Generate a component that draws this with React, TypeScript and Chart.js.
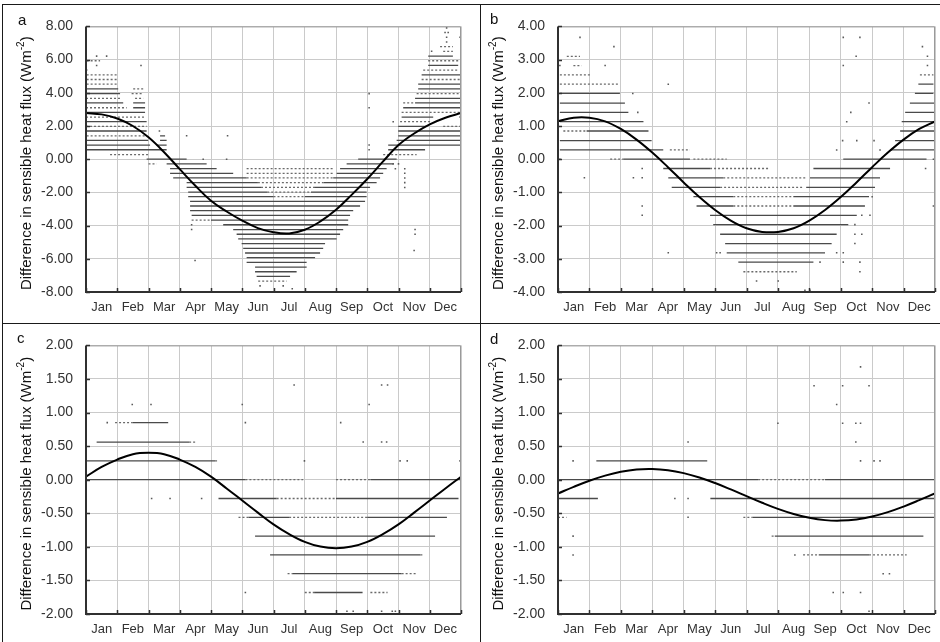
import React, { useEffect, useRef } from "react";
import { Chart, registerables } from "chart.js";
Chart.register(...registerables);

// ---------------- data ----------------
const MONTHS = ["Jan", "Feb", "Mar", "Apr", "May", "Jun", "Jul", "Aug", "Sep", "Oct", "Nov", "Dec"];
const MONTH_CENTERS = [0.5, 1.5, 2.5, 3.5, 4.5, 5.5, 6.5, 7.5, 8.5, 9.5, 10.5, 11.5];
const CURVE_X = [0, 0.5, 1, 1.5, 2, 2.5, 3, 3.5, 4, 4.5, 5, 5.5, 6, 6.5, 7, 7.5, 8, 8.5, 9, 9.5, 10, 10.5, 11, 11.5, 12];

const A_TICKS = [-8, -6, -4, -2, 0, 2, 4, 6, 8];
const B_TICKS = [-4, -3, -2, -1, 0, 1, 2, 3, 4];
const CD_TICKS = [-2, -1.5, -1, -0.5, 0, 0.5, 1, 1.5, 2];

// fitted curves (value at CURVE_X)
const aCurve = [2.78, 2.7, 2.45, 2.0, 1.32, 0.42, -0.6, -1.6, -2.5, -3.15, -3.7, -4.15, -4.4, -4.47, -4.25, -3.75, -3.05, -2.15, -1.19, -0.15, 0.85, 1.55, 2.1, 2.5, 2.78];
const bCurve = [1.14, 1.25, 1.25, 1.14, 0.91, 0.59, 0.2, -0.24, -0.7, -1.14, -1.53, -1.85, -2.08, -2.19, -2.19, -2.08, -1.85, -1.53, -1.14, -0.7, -0.24, 0.2, 0.59, 0.91, 1.14];
const cCurve = [0.045, 0.19, 0.3, 0.38, 0.4, 0.38, 0.3, 0.19, 0.045, -0.13, -0.31, -0.49, -0.665, -0.81, -0.925, -0.996, -1.02, -0.996, -0.925, -0.81, -0.665, -0.49, -0.31, -0.13, 0.045];
const dCurve = [-0.205, -0.106, -0.015, 0.061, 0.118, 0.152, 0.159, 0.141, 0.098, 0.033, -0.05, -0.145, -0.245, -0.344, -0.435, -0.511, -0.568, -0.602, -0.609, -0.591, -0.548, -0.483, -0.4, -0.305, -0.205];

// daily differences: dense runs [value, fromMonth, toMonth]
const aDense = [
  [6.21, 10.95, 11.74], [5.65, 10.95, 11.91], [5.08, 10.74, 11.97], [4.52, 10.63, 12],
  [4.24, 0, 1.03], [4.24, 10.63, 12], [3.95, 0, 1.09], [3.67, 10.53, 12],
  [3.39, 0, 1.19], [3.39, 1.51, 1.89], [3.39, 10.53, 12], [3.1, 1.51, 1.89], [3.1, 10.15, 12],
  [2.82, 0, 1.89], [2.54, 10.1, 11.11], [2.26, 0, 1.94], [1.98, 9.99, 10.9],
  [1.7, 0, 1.94], [1.7, 9.99, 12], [1.41, 2.37, 2.53], [1.41, 9.99, 12],
  [1.13, 0.02, 1.99], [1.13, 2.37, 2.58], [1.13, 9.94, 12],
  [0.85, 0, 2.05], [0.85, 2.26, 2.58], [0.85, 9.67, 12], [0.57, 0, 2.58], [0.57, 9.67, 10.85],
  [0, 1.94, 3.22], [0, 8.71, 9.94], [-0.28, 2.58, 3.86], [-0.28, 8.34, 9.83],
  [-0.57, 2.69, 4.18], [-0.57, 8.13, 9.62], [-0.85, 2.69, 4.71], [-0.85, 8.02, 9.51],
  [-1.13, 2.79, 5.14], [-1.13, 7.91, 9.41], [-1.41, 3.22, 5.5], [-1.41, 7.6, 9.3],
  [-1.7, 3.22, 5.6], [-1.7, 7.3, 9.09], [-1.98, 3.27, 5.8], [-1.98, 7.2, 8.98],
  [-2.26, 3.27, 6.0], [-2.26, 7.0, 8.98], [-2.54, 3.33, 8.93], [-2.82, 3.33, 8.77],
  [-3.1, 3.33, 8.55], [-3.39, 3.38, 8.45], [-3.67, 4.0, 8.39], [-3.95, 4.39, 8.39],
  [-4.24, 4.71, 8.23], [-4.52, 4.82, 8.13], [-4.8, 4.87, 8.02], [-5.08, 4.98, 7.65],
  [-5.37, 5.03, 7.59], [-5.65, 5.09, 7.49], [-5.93, 5.14, 7.33], [-6.21, 5.14, 7.06],
  [-6.5, 5.41, 7.06], [-6.78, 5.41, 6.74], [-7.06, 5.46, 6.53],
];
const aSparse = [
  [6.78, 11.33, 11.74], [6.5, 11.43, 11.74], [5.93, 0.02, 0.45], [5.93, 10.95, 11.91],
  [5.37, 10.79, 11.91], [5.08, 0.02, 0.98], [4.8, 0.02, 0.98], [4.8, 10.74, 12],
  [4.52, 0.02, 1.03], [4.24, 1.51, 1.83], [3.95, 1.46, 1.83], [3.95, 10.58, 12],
  [3.67, 0, 1.09], [3.67, 1.57, 1.83], [3.39, 10.15, 10.53], [3.1, 0, 1.3],
  [2.82, 10.1, 12], [2.54, 0, 1.89], [2.26, 10.05, 11.01], [1.98, 0, 1.94], [1.98, 11.43, 12],
  [1.41, 0.02, 1.94], [0.28, 0.77, 1.99], [0.28, 9.51, 10.58], [-0.28, 2.0, 2.26],
  [-0.57, 5.14, 7.91], [-0.85, 5.14, 7.91], [-1.13, 5.14, 7.91], [-1.41, 5.5, 7.6],
  [-1.7, 5.6, 7.3], [-1.98, 5.8, 7.2], [-2.26, 6.0, 7.0], [-3.67, 3.38, 4.0], [-7.34, 5.51, 6.42],
];
const aDots = [
  [11.54, 7.91], [11.49, 7.63], [11.59, 7.63], [11.54, 7.35], [11.97, 7.35], [11.54, 7.06],
  [11.06, 6.5], [0.34, 6.21], [0.66, 6.21], [0.34, 5.65], [1.76, 5.65], [0.02, 5.37],
  [9.06, 3.95], [9.06, 3.1], [11.97, 2.54], [9.83, 2.26], [2.35, 1.7], [3.22, 1.41], [4.53, 1.41],
  [9.06, 0.85], [9.06, 0.57], [3.75, 0], [4.5, 0], [10.0, -0.28], [3.38, -3.95], [3.38, -4.24],
  [3.49, -6.1], [5.57, -7.63], [6.31, -7.63], [6.6, -7.8], [10.53, -4.24], [10.53, -4.52],
  [10.5, -5.5], [10.2, -0.57], [10.2, -0.85], [10.2, -1.13], [10.2, -1.41], [10.2, -1.7],
  [9.83, -0.28], [9.9, -0.57],
];

const bDense = [
  [2.26, 11.47, 11.95], [1.98, 0.06, 1.97], [1.98, 11.36, 11.95], [1.69, 0.06, 2.13], [1.69, 11.2, 12],
  [1.41, 0.06, 2.24], [1.41, 11.05, 12], [1.13, 0.06, 2.72], [1.13, 10.94, 12],
  [0.85, 0.91, 2.88], [0.85, 10.89, 12], [0.56, 0.06, 2.98], [0.56, 10.73, 12],
  [0.28, 0.06, 3.35], [0.28, 10.57, 12], [0, 2.08, 4.2], [0, 9.08, 11.73],
  [-0.28, 3.35, 4.84], [-0.28, 8.13, 10.57], [-0.56, 3.51, 5.26], [-0.56, 8.02, 10.25],
  [-0.85, 3.62, 5.16], [-0.85, 7.9, 10.09], [-1.13, 4.31, 5.58], [-1.13, 7.49, 9.9],
  [-1.41, 4.41, 5.58], [-1.41, 7.49, 9.77], [-1.69, 4.84, 9.51], [-1.97, 4.94, 9.24],
  [-2.26, 5.16, 8.87], [-2.54, 5.32, 8.71], [-2.82, 5.37, 8.5], [-3.1, 5.74, 8.13],
];
const bSparse = [
  [3.1, 0.28, 0.7], [2.82, 0.49, 0.75], [2.54, 0.06, 1.07], [2.54, 11.52, 11.95],
  [2.26, 0.06, 1.92], [0.85, 0.17, 0.91], [0.28, 3.56, 4.2], [0, 1.66, 2.08], [0, 4.31, 5.37],
  [-0.28, 4.84, 6.75], [-0.56, 5.26, 7.92], [-0.85, 5.16, 7.81], [-1.13, 5.58, 7.49],
  [-1.41, 5.58, 7.49], [-3.39, 5.9, 7.6],
];
const bDots = [
  [0.7, 3.67], [9.08, 3.67], [9.61, 3.67], [1.78, 3.39], [11.6, 3.39], [9.49, 3.1], [11.76, 3.1],
  [0.06, 2.82], [1.5, 2.82], [9.08, 2.82], [11.76, 2.82], [3.51, 2.26], [2.38, 1.98], [9.9, 1.69],
  [2.54, 1.41], [9.32, 1.41], [9.19, 1.13], [9.06, 0.56], [9.51, 0.56], [10.06, 0.56], [8.87, 0.28],
  [10.25, 0.28], [0.06, 0], [11.95, 0], [2.68, -0.28], [0.84, -0.56], [2.4, -0.56], [2.68, -0.56],
  [10.0, -1.13], [2.68, -1.41], [2.68, -1.69], [9.67, -1.69], [9.93, -1.69], [9.45, -1.97],
  [9.45, -2.26], [9.67, -2.26], [9.45, -2.54], [5.05, -2.82], [5.16, -2.82], [8.87, -2.82],
  [9.08, -2.82], [3.51, -2.82], [8.34, -3.1], [9.08, -3.1], [9.61, -3.1], [9.61, -3.39],
  [6.32, -3.67], [7.01, -3.67], [7.86, -3.95], [8.02, -3.95], [11.95, -1.41], [11.7, -0.28],
];

const cDense = [
  [0.85, 1.5, 2.63], [0.56, 0.34, 3.3], [0.28, 0, 4.13], [0, 0, 5.1], [0, 9.1, 12],
  [-0.28, 4.24, 6.1], [-0.28, 8.0, 11.92], [-0.56, 5.2, 6.5], [-0.56, 9.0, 11.55],
  [-0.84, 5.41, 11.17], [-1.12, 5.89, 10.7], [-1.4, 6.6, 10.1], [-1.68, 7.3, 8.85],
];
const cSparse = [
  [0.85, 0.93, 1.5], [0.56, 3.3, 3.54], [0.28, 4.13, 4.23], [0, 5.1, 6.95], [0, 8.0, 9.1],
  [-0.28, 6.1, 8.0], [-0.56, 4.88, 5.2], [-0.56, 6.5, 9.0], [-1.12, 10.7, 10.79],
  [-1.4, 6.45, 6.6], [-1.4, 10.1, 10.58], [-1.68, 7.0, 7.3], [-1.68, 9.1, 9.65],
];
const cDots = [
  [6.66, 1.41], [9.46, 1.41], [9.65, 1.41], [1.48, 1.12], [2.08, 1.12], [5.0, 1.12], [9.06, 1.12],
  [0.68, 0.85], [5.1, 0.85], [8.15, 0.85], [8.87, 0.56], [9.46, 0.56], [9.62, 0.56],
  [6.99, 0.28], [10.05, 0.28], [10.28, 0.28], [11.97, 0.28], [2.1, -0.28], [2.69, -0.28],
  [3.7, -0.28], [5.1, -1.68], [8.35, -1.96], [8.55, -1.96], [9.46, -1.96], [9.8, -1.96], [9.9, -1.96],
];

const dDense = [
  [0.28, 1.22, 4.75], [0, 0, 6.37], [0, 8.5, 12], [-0.28, 0, 1.27], [-0.28, 4.85, 12],
  [-0.56, 6.2, 12], [-0.84, 6.9, 11.63], [-1.12, 8.3, 9.9],
];
const dSparse = [
  [0, 6.37, 8.5], [-0.56, 0, 0.27], [-0.56, 5.9, 6.2], [-0.84, 6.8, 6.9], [-1.12, 7.8, 8.3], [-1.12, 9.9, 11.1],
];
const dDots = [
  [9.63, 1.68], [8.15, 1.4], [9.06, 1.4], [9.9, 1.4], [8.87, 1.12], [7.0, 0.84], [9.06, 0.84],
  [9.48, 0.84], [9.63, 0.84], [4.14, 0.56], [9.48, 0.56], [0.48, 0.28], [9.63, 0.28], [10.06, 0.28],
  [10.25, 0.28], [12.0, 0.28], [3.72, -0.28], [4.14, -0.28], [4.14, -0.56], [0.48, -0.84],
  [0.48, -1.12], [7.54, -1.12], [10.35, -1.4], [10.55, -1.4], [8.76, -1.68], [9.08, -1.68],
  [9.63, -1.68], [9.9, -1.96],
];

// ---------------- layout / style ----------------
const FONT = "'Liberation Sans', Arial, Helvetica, sans-serif";
const PANELS = [
  { letter: "a", left: 3, top: 5, w: 477, h: 318, pad: { left: 83, top: 16, right: 19, bottom: 31 }, ticks: A_TICKS, curve: aCurve, dense: aDense, sparse: aSparse, dots: aDots, titleX: 24, letterX: 15, letterY: 20 },
  { letter: "b", left: 481, top: 5, w: 459, h: 318, pad: { left: 77, top: 16, right: 5, bottom: 31 }, ticks: B_TICKS, curve: bCurve, dense: bDense, sparse: bSparse, dots: bDots, titleX: 18, letterX: 9, letterY: 19 },
  { letter: "c", left: 3, top: 324, w: 477, h: 318, pad: { left: 83, top: 18, right: 19, bottom: 28 }, ticks: CD_TICKS, curve: cCurve, dense: cDense, sparse: cSparse, dots: cDots, titleX: 24, letterX: 14, letterY: 19 },
  { letter: "d", left: 481, top: 324, w: 459, h: 318, pad: { left: 77, top: 18, right: 5, bottom: 28 }, ticks: CD_TICKS, curve: dCurve, dense: dDense, sparse: dSparse, dots: dDots, titleX: 18, letterX: 9, letterY: 20 },
];

function runs(rows: number[][]) {
  const out: { x: number; y: number | null }[] = [];
  rows.forEach(([v, a, b]) => {
    out.push({ x: a, y: v }, { x: b, y: v }, { x: b, y: null });
  });
  return out;
}

function Panel({ p }: { p: (typeof PANELS)[number] }) {
  const ref = useRef<HTMLCanvasElement>(null);
  useEffect(() => {
    const ticks = p.ticks;
    const yMin = ticks[0];
    const yMax = ticks[ticks.length - 1];
    const deco = {
      id: "deco",
      afterDraw(chart: any) {
        const { ctx } = chart;
        const { left, right, top, bottom } = chart.chartArea;
        const ys = chart.scales.y;
        const xs = chart.scales.x;
        ctx.save();
        ctx.strokeStyle = "#9a9a9a";
        ctx.lineWidth = 1;
        ctx.beginPath();
        ctx.moveTo(left, top + 0.5);
        ctx.lineTo(right - 0.5, top + 0.5);
        ctx.lineTo(right - 0.5, bottom);
        ctx.stroke();
        ctx.strokeStyle = "#303030";
        ctx.lineWidth = 2;
        ctx.beginPath();
        ctx.moveTo(left, top);
        ctx.lineTo(left, bottom);
        ctx.lineTo(right, bottom);
        ctx.stroke();
        ctx.lineWidth = 1.5;
        ctx.beginPath();
        ticks.forEach((t) => {
          const py = Math.round(ys.getPixelForValue(t)) + 0.5;
          ctx.moveTo(left, py);
          ctx.lineTo(left + 4, py);
        });
        for (let m = 0; m <= 12; m++) {
          const px = Math.round(xs.getPixelForValue(m)) + 0.5;
          ctx.moveTo(px, bottom);
          ctx.lineTo(px, bottom - 4);
        }
        ctx.stroke();
        const f = `15px ${FONT}`;
        const fs = `10px ${FONT}`;
        const t1 = "Difference in sensible heat flux (Wm";
        const t2 = "-2";
        const t3 = ")";
        ctx.font = f;
        const w1 = ctx.measureText(t1).width;
        const w3 = ctx.measureText(t3).width;
        ctx.font = fs;
        const w2 = ctx.measureText(t2).width;
        const total = w1 + w2 + w3;
        ctx.translate(p.titleX, (top + bottom) / 2 + 4);
        ctx.rotate(-Math.PI / 2);
        ctx.fillStyle = "#111";
        ctx.textBaseline = "middle";
        ctx.textAlign = "left";
        let x0 = -total / 2;
        ctx.font = f;
        ctx.fillText(t1, x0, 0);
        x0 += w1;
        ctx.font = fs;
        ctx.fillText(t2, x0, -6);
        x0 += w2;
        ctx.font = f;
        ctx.fillText(t3, x0, 0);
        ctx.restore();
        ctx.save();
        ctx.fillStyle = "#111";
        ctx.font = `15px ${FONT}`;
        ctx.textAlign = "left";
        ctx.textBaseline = "alphabetic";
        ctx.fillText(p.letter, p.letterX, p.letterY);
        ctx.restore();
      },
    };
    const chart = new Chart(ref.current as HTMLCanvasElement, {
      type: "line",
      data: {
        datasets: [
          {
            data: CURVE_X.map((x, i) => ({ x, y: p.curve[i] })),
            borderColor: "#000",
            borderWidth: 2,
            pointRadius: 0,
            tension: 0.4,
            fill: false,
          },
          {
            type: "scatter",
            data: p.dots.map(([x, y]) => ({ x, y })),
            pointStyle: "rect",
            pointRadius: 1.1,
            borderWidth: 0,
            backgroundColor: "#5a5a5a",
          },
          {
            data: runs(p.dense),
            borderColor: "#4a4a4a",
            borderWidth: 1.3,
            pointRadius: 0,
            tension: 0,
            spanGaps: false,
            fill: false,
          },
          {
            data: runs(p.sparse),
            borderColor: "#6a6a6a",
            borderWidth: 1.3,
            borderDash: [2, 2],
            pointRadius: 0,
            tension: 0,
            spanGaps: false,
            fill: false,
          },
        ],
      } as any,
      options: {
        responsive: false,
        animation: false,
        events: [],
        layout: { padding: { left: 0, top: p.pad.top, right: p.pad.right, bottom: 0 } },
        plugins: { legend: { display: false }, tooltip: { enabled: false } },
        scales: {
          x: {
            type: "linear",
            min: 0,
            max: 12,
            ticks: { stepSize: 1, display: false },
            grid: { color: "#cacaca", lineWidth: 1, drawTicks: false },
            border: { display: false },
            afterFit: (s: any) => {
              s.height = 0;
            },
          },
          x2: {
            type: "linear",
            position: "bottom",
            min: 0,
            max: 12,
            grid: { display: false, drawTicks: false },
            border: { display: false },
            afterBuildTicks: (s: any) => {
              s.ticks = MONTH_CENTERS.map((v) => ({ value: v }));
            },
            ticks: {
              autoSkip: false,
              maxRotation: 0,
              padding: 8,
              color: "#333",
              font: { family: FONT, size: 13 },
              callback: (_v: any, i: number) => MONTHS[i],
            },
            afterFit: (s: any) => {
              s.height = p.pad.bottom;
            },
          },
          y: {
            type: "linear",
            min: yMin,
            max: yMax,
            afterBuildTicks: (s: any) => {
              s.ticks = ticks.map((v) => ({ value: v }));
            },
            ticks: {
              padding: 13,
              color: "#333",
              font: { family: FONT, size: 14 },
              callback: (v: any) => Number(v).toFixed(2),
            },
            grid: { color: "#cacaca", lineWidth: 1, drawTicks: false },
            border: { display: false },
            afterFit: (s: any) => {
              s.width = p.pad.left;
            },
          },
        },
      } as any,
      plugins: [deco],
    });
    return () => chart.destroy();
  }, [p]);
  return (
    <canvas
      ref={ref}
      width={p.w}
      height={p.h}
      style={{ position: "absolute", left: p.left, top: p.top, width: p.w, height: p.h }}
    />
  );
}

export default function App() {
  const line = "#1a1a1a";
  return (
    <div style={{ position: "absolute", left: 0, top: 0, width: 940, height: 642, background: "#fff", overflow: "hidden" }}>
      <div style={{ position: "absolute", left: 2, top: 4, width: 938, height: 1, background: line }} />
      <div style={{ position: "absolute", left: 2, top: 4, width: 1, height: 638, background: line }} />
      <div style={{ position: "absolute", left: 480, top: 4, width: 1, height: 638, background: line }} />
      <div style={{ position: "absolute", left: 2, top: 323, width: 938, height: 1, background: line }} />
      {PANELS.map((p) => (
        <Panel key={p.letter} p={p} />
      ))}
    </div>
  );
}
